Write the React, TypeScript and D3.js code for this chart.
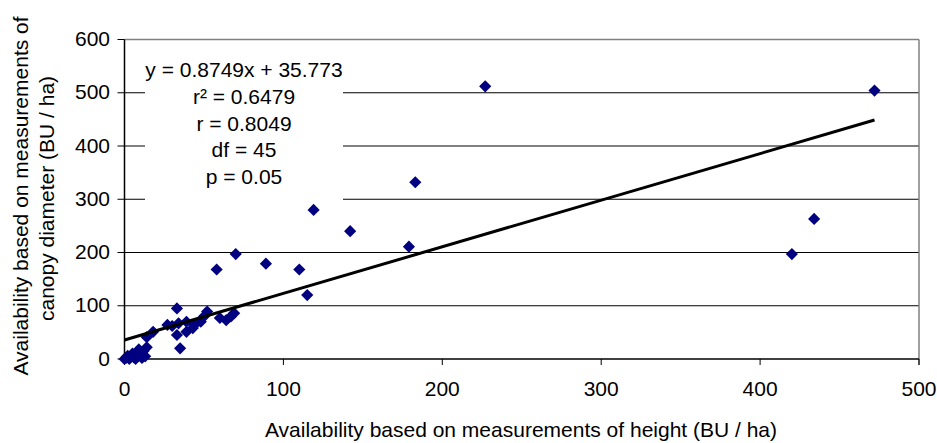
import React from "react";
import * as d3 from "d3";

// Availability estimates (BU / ha): height-based (x) vs canopy-diameter-based (y)
const heightValues = [
  227, 472, 183, 119, 142, 179, 420, 434, 115, 110, 89, 70, 58,
  33, 18, 14, 27, 34, 39, 33, 35, 39, 43, 44, 48, 52, 50, 60, 64, 69, 67, 30,
  0, 1, 3, 4, 6, 8, 10, 12, 13, 11, 5, 2, 7, 9, 14,
];
const canopyValues = [
  512, 504, 332, 280, 240, 211, 197, 263, 120, 168, 179, 197, 168,
  95, 51, 41, 64, 67, 70, 45, 20, 51, 58, 64, 70, 89, 80, 77, 73, 86, 80, 62,
  0, 2, 0, 5, 3, 8, 12, 15, 5, 2, 10, 6, 0, 18, 22,
];

const xTicks = [0, 100, 200, 300, 400, 500];
const yTicks = [0, 100, 200, 300, 400, 500, 600];

const slope = 0.8749;
const intercept = 35.773;
const statsLines = [
  "y = 0.8749x + 35.773",
  "r² = 0.6479",
  "r = 0.8049",
  "df = 45",
  "p = 0.05",
];

const W = 937;
const H = 443;
const plot = { left: 124.5, right: 919, top: 39.5, bottom: 359 };
const font = "'Liberation Sans', Arial, sans-serif";
const fs = 21;

export default function App() {
  const x = d3.scaleLinear().domain([0, 500]).range([plot.left, plot.right]);
  const y = d3.scaleLinear().domain([0, 600]).range([plot.bottom, plot.top]);
  const points = heightValues.map((h, i) => ({ h, c: canopyValues[i] }));
  const diamond = d3.symbol(d3.symbolSquare, 74)()!;
  const xMax = d3.max(heightValues)!;
  const trend = d3.line<number>()
    .x((v) => x(v))
    .y((v) => y(slope * v + intercept))([0, xMax])!;

  return (
    <svg width={W} height={H} style={{ position: "absolute", left: 0, top: 0, background: "#fff" }}>
      {/* horizontal gridlines */}
      {yTicks.slice(1, -1).map((t) => (
        <line key={t} x1={plot.left} x2={plot.right} y1={y(t)} y2={y(t)} stroke="#000" strokeWidth={1} />
      ))}
      {/* plot frame: top and right sides in grey */}
      <line x1={plot.left} x2={plot.right} y1={y(600)} y2={y(600)} stroke="#808080" strokeWidth={1.5} />
      <line x1={plot.right} x2={plot.right} y1={y(600)} y2={plot.bottom + 6} stroke="#808080" strokeWidth={1.5} />

      {/* statistics box */}
      <rect x={145} y={55} width={198} height={148} fill="#fff" />
      {statsLines.map((s, i) => (
        <text key={i} x={244} y={77 + i * 26.8} textAnchor="middle" fontFamily={font} fontSize={fs} fill="#000">
          {s}
        </text>
      ))}

      {/* axes */}
      <line x1={plot.left} x2={plot.left} y1={plot.top} y2={plot.bottom} stroke="#000" strokeWidth={1.5} />
      <line x1={plot.left} x2={plot.right} y1={plot.bottom} y2={plot.bottom} stroke="#000" strokeWidth={1.5} />
      {yTicks.map((t) => (
        <g key={t}>
          <line x1={plot.left - 7} x2={plot.left} y1={y(t)} y2={y(t)} stroke="#000" strokeWidth={1} />
          <text x={110} y={y(t) + 6.5} textAnchor="end" fontFamily={font} fontSize={fs} fill="#000">
            {t}
          </text>
        </g>
      ))}
      {xTicks.map((t) => (
        <g key={t}>
          <line x1={x(t)} x2={x(t)} y1={plot.bottom} y2={plot.bottom + 6} stroke="#000" strokeWidth={1} />
          <text x={x(t)} y={396} textAnchor="middle" fontFamily={font} fontSize={fs} fill="#000">
            {t}
          </text>
        </g>
      ))}

      {/* data points */}
      {points.map((p, i) => (
        <path key={i} d={diamond} transform={`translate(${x(p.h)},${y(p.c)}) rotate(45)`} fill="#000080" />
      ))}

      {/* linear trend line */}
      <path d={trend} stroke="#000" strokeWidth={3} fill="none" />

      {/* axis titles */}
      <text x={521} y={437} textAnchor="middle" fontFamily={font} fontSize={fs} fill="#000">
        Availability based on measurements of height (BU / ha)
      </text>
      <text transform="translate(27.5,196) rotate(-90)" textAnchor="middle" fontFamily={font} fontSize={fs} fill="#000">
        Availability based on measurements of
      </text>
      <text transform="translate(54,198.5) rotate(-90)" textAnchor="middle" fontFamily={font} fontSize={fs} fill="#000">
        canopy diameter (BU / ha)
      </text>
    </svg>
  );
}
